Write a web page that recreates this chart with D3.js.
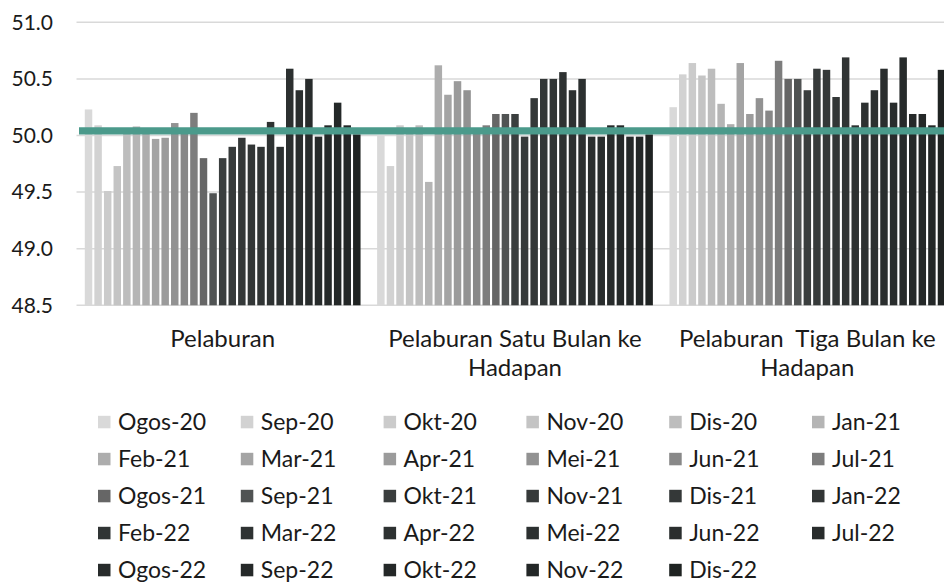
<!DOCTYPE html>
<html>
<head>
<meta charset="utf-8">
<script src="https://cdn.jsdelivr.net/npm/d3@7"></script>
<style>
  body { margin: 0; background: #fff; }
  text { font-family: Lato, "Noto Sans", sans-serif; fill: #1a1a1a; }
</style>
</head>
<body>
<div class="chart"></div>
<script>
// categories on the x axis (second line of the label after "|")
var groups = ["Pelaburan", "Pelaburan Satu Bulan ke|Hadapan", "Pelaburan  Tiga Bulan ke|Hadapan"];

// one series per month
var months = ["Ogos-20", "Sep-20", "Okt-20", "Nov-20", "Dis-20", "Jan-21",
  "Feb-21", "Mar-21", "Apr-21", "Mei-21", "Jun-21", "Jul-21",
  "Ogos-21", "Sep-21", "Okt-21", "Nov-21", "Dis-21", "Jan-22",
  "Feb-22", "Mar-22", "Apr-22", "Mei-22", "Jun-22", "Jul-22",
  "Ogos-22", "Sep-22", "Okt-22", "Nov-22", "Dis-22"];

// values, one per month
var pelaburan = [50.23, 50.09, 49.51, 49.73, 50.03, 50.08, 50.03, 49.97, 49.98, 50.11,
  50.03, 50.20, 49.80, 49.49, 49.80, 49.90, 49.98, 49.92, 49.90, 50.12,
  49.90, 50.59, 50.40, 50.50, 49.99, 50.09, 50.29, 50.09, 50.01];
var pelaburanSatuBulan = [50.00, 49.73, 50.09, 50.03, 50.09, 49.59, 50.62, 50.36, 50.48, 50.40,
  50.03, 50.09, 50.19, 50.19, 50.19, 49.99, 50.33, 50.50, 50.50, 50.56,
  50.40, 50.50, 49.99, 49.99, 50.09, 50.09, 49.99, 49.99, 50.01];
var pelaburanTigaBulan = [50.25, 50.54, 50.64, 50.53, 50.59, 50.28, 50.10, 50.64, 50.19, 50.33,
  50.22, 50.66, 50.50, 50.50, 50.40, 50.59, 50.58, 50.34, 50.69, 50.09,
  50.29, 50.40, 50.59, 50.29, 50.69, 50.19, 50.19, 50.09, 50.58];

var yTicks = [48.5, 49.0, 49.5, 50.0, 50.5, 51.0];
var referenceLine = 50.04;

// grey ramp for the months, light to dark
var palette = ["#d9d9d9", "#d2d2d2", "#cbcbcb", "#c4c4c4", "#bdbdbd", "#b5b5b5",
  "#adadad", "#a4a4a4", "#9b9b9b", "#929292", "#888888", "#7d7d7d",
  "#666666", "#505353", "#3a3e3e", "#363a3a", "#343838", "#323636",
  "#303434", "#2e3232", "#2d3131", "#2c3030", "#2a2e2e", "#282c2c",
  "#272b2b", "#252929", "#242828", "#232727", "#1f2322"];

var svgWidth = 944;
var svgHeight = 582;

var svg = d3.select(".chart")
  .append("svg")
  .attr("width", svgWidth)
  .attr("height", svgHeight);

// build rows: one per category, with a value for every month
var seriesByGroup = [pelaburan, pelaburanSatuBulan, pelaburanTigaBulan];
var table = groups.map(function (g, i) {
  return { group: g, values: months.map(function (m, j) { return { month: m, value: seriesByGroup[i][j], idx: j }; }) };
});

// scales (plot runs past the right edge, as in the original crop)
var x0 = d3.scaleBand()
  .domain(groups)
  .range([76.5, 953.5])
  .padding(0);

var x1 = d3.scaleBand()
  .domain(months)
  .range([0, x0.bandwidth()])
  .paddingInner(0.22)
  .paddingOuter(0.865);

var y = d3.scaleLinear()
  .domain([48.5, 51.0])
  .range([305.3, 22.3]);

var color = d3.scaleOrdinal()
  .domain(months)
  .range(palette);

// gridlines
svg.append("g")
  .selectAll("line")
  .data(yTicks)
  .enter()
  .append("line")
  .attr("x1", 76.5)
  .attr("x2", svgWidth)
  .attr("y1", d => y(d))
  .attr("y2", d => y(d))
  .attr("stroke", "#d9d9d9")
  .attr("stroke-width", 1.5);

// y axis labels
var leftAxis = d3.axisLeft(y).tickValues(yTicks).tickFormat(d3.format(".1f")).tickSize(0).tickPadding(0);
var yAxis = svg.append("g")
  .attr("transform", "translate(53,0)")
  .call(leftAxis);
yAxis.select(".domain").remove();
yAxis.selectAll("text")
  .attr("font-family", "Lato, 'Noto Sans', sans-serif")
  .attr("font-size", 21)
  .attr("fill", "#1a1a1a");

// bars
var groupSel = svg.append("g")
  .selectAll("g")
  .data(table)
  .enter()
  .append("g")
  .attr("transform", d => `translate(${x0(d.group)},0)`);

groupSel.selectAll("rect")
  .data(d => d.values)
  .enter()
  .append("rect")
  .attr("x", d => x1(d.month))
  .attr("width", x1.bandwidth())
  .attr("y", d => y(d.value))
  .attr("height", d => y(48.5) - y(d.value))
  .attr("fill", d => color(d.month));

// teal reference line
svg.append("line")
  .attr("x1", 79)
  .attr("x2", svgWidth)
  .attr("y1", y(referenceLine))
  .attr("y2", y(referenceLine))
  .attr("stroke", "#4b9a8b")
  .attr("stroke-width", 7.3);

// category labels
var catLabels = svg.append("g")
  .selectAll("text")
  .data(groups)
  .enter()
  .append("text")
  .attr("x", d => x0(d) + x0.bandwidth() / 2)
  .attr("y", 347)
  .attr("text-anchor", "middle")
  .attr("font-size", 24)
  .style("white-space", "pre");

catLabels.each(function (d) {
  var lines = d.split("|");
  var t = d3.select(this);
  lines.forEach(function (line, i) {
    t.append("tspan")
      .attr("x", x0(d) + x0.bandwidth() / 2)
      .attr("dy", i === 0 ? 0 : 29)
      .text(line);
  });
});

// legend, 6 columns
var legendCols = 6;
var legend = svg.append("g")
  .selectAll("g")
  .data(months)
  .enter()
  .append("g")
  .attr("transform", (d, i) => `translate(${98 + (i % legendCols) * 142.8}, ${422.3 + Math.floor(i / legendCols) * 37})`);

legend.append("rect")
  .attr("x", 0)
  .attr("y", -6.5)
  .attr("width", 12.5)
  .attr("height", 12.5)
  .attr("fill", d => color(d));

legend.append("text")
  .attr("x", 20)
  .attr("y", 0)
  .attr("dy", "0.35em")
  .attr("font-size", 23)
  .text(d => d);
</script>
</body>
</html>
